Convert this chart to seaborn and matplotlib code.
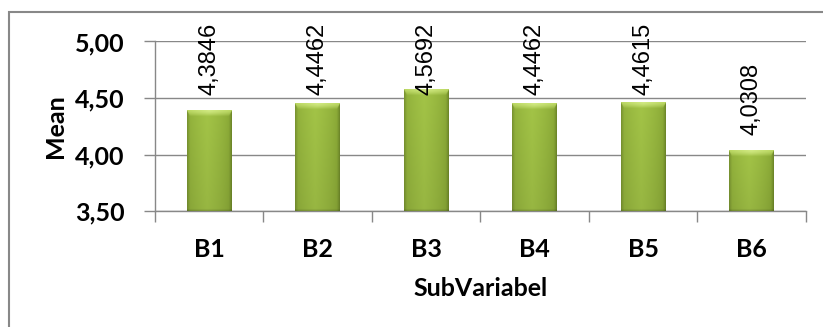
import numpy as np
import pandas as pd
import matplotlib
matplotlib.use("Agg")
import matplotlib.pyplot as plt
import seaborn as sns
from matplotlib.patches import Rectangle
from matplotlib.colors import to_rgb
from matplotlib.ticker import FixedLocator

# ---- data ----
categories = ["B1", "B2", "B3", "B4", "B5", "B6"]
means = [4.3846, 4.4462, 4.5692, 4.4462, 4.4615, 4.0308]
yticks = [3.50, 4.00, 4.50, 5.00]
ytick_labels = ["3,50", "4,00", "4,50", "5,00"]
x_title = "SubVariabel"
y_title = "Mean"

sns.set_theme(style="white")
plt.rcParams['font.family'] = ['Lato', 'DejaVu Sans']

fig = plt.figure(figsize=(8.23, 3.27), dpi=100)
ax = fig.add_axes([0.1883, 0.3538, 0.7910, 0.5193])

df = pd.DataFrame({x_title: categories, y_title: means})
sns.barplot(data=df, x=x_title, y=y_title, color="#9dbf44", width=0.41,
            ax=ax, zorder=3, edgecolor="none")

ax.set_ylim(yticks[0], yticks[-1])
ax.set_xlim(-0.5, len(categories) - 0.5)
ax.autoscale(False)

# grid
ax.set_yticks(yticks)
ax.set_yticklabels(ytick_labels)
ax.yaxis.grid(True, color="#888888", linewidth=1.0, zorder=0)
ax.set_axisbelow(True)
ax.xaxis.grid(False)

for s in ["top", "right"]:
    ax.spines[s].set_visible(False)
for s in ["left", "bottom"]:
    ax.spines[s].set_color("#888888")
    ax.spines[s].set_linewidth(1.0)

ax.tick_params(axis="y", which="major", length=8, width=1, color="#888888",
               direction="out", pad=14, left=True)
ax.xaxis.set_minor_locator(FixedLocator(np.arange(-0.5, len(categories), 1.0)))
ax.tick_params(axis="x", which="minor", length=8, width=1, color="#888888",
               direction="out", bottom=True)
ax.tick_params(axis="x", which="major", length=0, pad=19)

FS = 18
for lab in ax.get_yticklabels() + ax.get_xticklabels():
    lab.set_fontweight("bold")
    lab.set_fontsize(FS)
    lab.set_color("black")

ax.set_xlabel(x_title, fontsize=FS, fontweight="bold", color="black")
ax.set_ylabel(y_title, fontsize=FS, fontweight="bold", color="black")
ax.xaxis.set_label_coords(0.5, -0.385)
ax.xaxis.label.set_va("top")
ax.yaxis.set_label_coords(-0.135, 0.5)

# bevel gradient on bars
def mix(c1, c2, t):
    c1 = np.array(to_rgb(c1)); c2 = np.array(to_rgb(c2))
    return c1 * (1 - t) + c2 * t

fig.canvas.draw()
for p in list(ax.patches):
    x0 = p.get_x(); w = p.get_width(); top = p.get_y() + p.get_height()
    bot = yticks[0]
    (px0, py0) = ax.transData.transform((x0, bot))
    (px1, py1) = ax.transData.transform((x0 + w, top))
    S = 3
    W = max(int(round((px1 - px0) * S)), 4)
    H = max(int(round((py1 - py0) * S)), 4)
    img = np.zeros((H, W, 3))
    cols = np.arange(W) / (W - 1)
    prof = 1 - np.abs(cols - 0.45) / 0.55
    prof = np.clip(prof, 0, 1) ** 0.5
    body = np.array([mix("#7f9d2f", "#a3c447", t) for t in prof])
    for r in range(H):
        frac = r / (H - 1)
        img[r] = body * (1.0 - 0.07 * frac)
    bev_top = 6 * S
    side = 3 * S
    bevb = 2 * S
    for c in range(side):
        t = c / side
        img[:, c] = img[:, c] * (0.84 + 0.16 * t)
        img[:, W - 1 - c] = img[:, W - 1 - c] * (0.84 + 0.16 * t)
    for r in range(bevb):
        img[H - 1 - r, :] = img[H - 1 - r, :] * (0.82 + 0.18 * r / bevb)
    for r in range(min(bev_top, H)):
        c0 = int(r * side / bev_top)
        c1 = W - int(r * side / bev_top)
        t = r / bev_top
        for c in range(c0, c1):
            cc = c / (W - 1)
            hl = max(1 - abs(cc - 0.5) * 1.6, 0)
            top_col = mix("#b5d35a", "#d2ea84", hl)
            img[r, c] = top_col * (1 - t ** 1.5) + img[r, c] * (t ** 1.5)
    ax.imshow(img, extent=[x0, x0 + w, bot, top], aspect="auto",
              origin="upper", zorder=4, interpolation="bilinear")
    p.set_visible(False)

# value labels
for i, v in enumerate(means):
    ytop = min(v + 0.78, yticks[-1] + 0.17)
    ax.text(i, ytop, f"{v:.4f}".replace(".", ","), rotation=90,
            ha="center", va="top", fontsize=17, color="black",
            family=["Liberation Sans", "DejaVu Sans"], zorder=6, clip_on=False)

ax.set_xlim(-0.5, len(categories) - 0.5)
ax.set_ylim(yticks[0], yticks[-1])

# chart frame
fig.add_artist(Rectangle((8.5 / 823, -0.2), 1.3, 1 - 12 / 327 + 0.2,
                         transform=fig.transFigure, fill=False,
                         edgecolor="#888888", linewidth=1.5))

fig.savefig("out.png", dpi=100)
